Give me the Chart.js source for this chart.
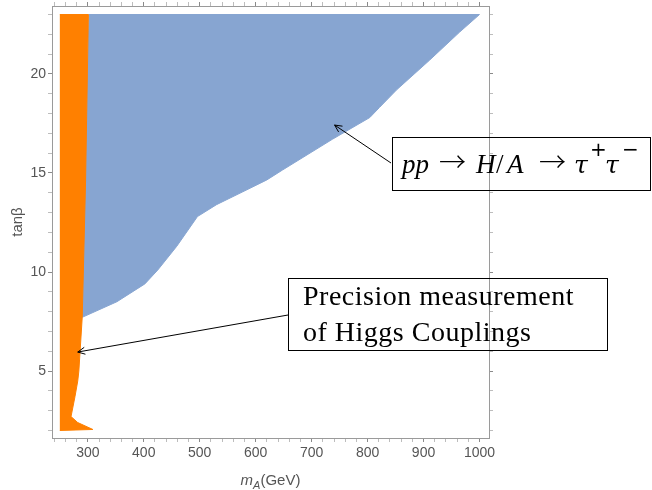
<!DOCTYPE html>
<html>
<head>
<meta charset="utf-8">
<script src="https://cdn.jsdelivr.net/npm/chart.js@4/dist/chart.umd.min.js"></script>
<style>
  body { margin: 0; background: #fff; }
  canvas { display: block; }
</style>
</head>
<body>
<canvas id="regionChart" width="652" height="490"></canvas>
<script>
// pp -> H/A -> tau tau region (blue), outline in order
const tauMass = [301, 1000, 964, 911, 852, 821, 804, 737, 648, 620, 577, 530, 496, 459, 425, 402, 352, 289];
const tauTanb = [23, 23, 22.1, 20.7, 19.2, 18.3, 17.8, 16.7, 15.15, 14.65, 14.05, 13.4, 12.8, 11.3, 10.1, 9.4, 8.5, 7.7];

// Higgs coupling precision region (orange), outline in order
const higgsMass = [250, 301, 296, 290, 284, 282, 277, 270, 282, 309, 250];
const higgsTanb = [23, 23, 14.6, 7.7, 5, 4.5, 3.7, 2.7, 2.4, 2.05, 2.0];

// tick labels
const xTickLabels = [300, 400, 500, 600, 700, 800, 900, 1000];
const yTickLabels = [5, 10, 15, 20];

// arrow targets (data coords)
const tauArrowTip = [741, 17.42];
const higgsArrowTip = [282, 5.96];

const X_MIN = 236, X_MAX = 1017, Y_MIN = 1.62, Y_MAX = 23.43;
const axisGrey = '#9a9a9a';
const labelGrey = '#555555';

function outline(xs, ys) {
    return xs.map((x, i) => ({ x: x, y: ys[i] }));
}

function tickColor(labels) {
    return ctx => labels.includes(ctx.tick && ctx.tick.value) ? '#8a8a8a' : '#bdbdbd';
}

function drawArrow(c, x0, y0, x1, y1) {
    const ang = Math.atan2(y1 - y0, x1 - x0);
    const len = 8, spread = 0.45;
    c.beginPath();
    c.moveTo(x0, y0);
    c.lineTo(x1, y1);
    c.moveTo(x1 - len * Math.cos(ang - spread), y1 - len * Math.sin(ang - spread));
    c.lineTo(x1, y1);
    c.lineTo(x1 - len * Math.cos(ang + spread), y1 - len * Math.sin(ang + spread));
    c.stroke();
}

// text whose ink starts at x
function glyph(c, text, font, x, y) {
    c.font = font;
    const m = c.measureText(text);
    c.fillText(text, x + (m.actualBoundingBoxLeft || 0), y);
}

// axis titles + annotation boxes
const annotations = {
    id: 'annotations',
    afterDraw(chart) {
        const c = chart.ctx;
        const area = chart.chartArea;
        const xs = chart.scales.x, ys = chart.scales.y;
        c.save();

        // y title
        c.fillStyle = labelGrey;
        c.font = '15px "Liberation Sans", sans-serif';
        c.textAlign = 'center';
        c.textBaseline = 'middle';
        c.save();
        c.translate(18, (area.top + area.bottom) / 2);
        c.rotate(-Math.PI / 2);
        c.fillText('tanβ', 0, 0);
        c.restore();

        // x title: m_A(GeV)
        c.textAlign = 'left';
        c.textBaseline = 'alphabetic';
        const parts = [
            ['m', 'italic 15px "Liberation Sans", sans-serif', 0],
            ['A', 'italic 11px "Liberation Sans", sans-serif', 4],
            ['(GeV)', '15px "Liberation Sans", sans-serif', 0]
        ];
        let w = 0;
        parts.forEach(p => { c.font = p[1]; w += c.measureText(p[0]).width; });
        let px = (area.left + area.right) / 2 - w / 2;
        parts.forEach(p => {
            c.font = p[1];
            c.fillText(p[0], px, 485 + p[2]);
            px += c.measureText(p[0]).width;
        });

        // annotation boxes
        c.strokeStyle = '#000';
        c.fillStyle = '#000';
        c.lineWidth = 1;

        // pp -> H/A -> tau+ tau-
        c.strokeRect(392.5, 137.5, 258, 53);
        const serif = '"Liberation Serif", serif';
        const it = 'italic 27px ' + serif, up = '27px ' + serif;
        const arrowFont = '300 27px "Noto Sans CJK JP", "DejaVu Sans", sans-serif';
        const tauFont = 'italic 25px "DejaVu Serif", serif';
        const sup = '20px "DejaVu Sans", sans-serif';
        glyph(c, 'pp', it, 400, 173);
        glyph(c, '→', arrowFont, 440, 172);
        glyph(c, 'H', it, 475, 173);
        glyph(c, '/', up, 496, 173);
        glyph(c, 'A', it, 505, 173);
        glyph(c, '→', arrowFont, 540, 172);
        glyph(c, 'τ', tauFont, 575, 173);
        glyph(c, '+', sup, 592, 156);
        glyph(c, 'τ', tauFont, 606, 173);
        glyph(c, '−', sup, 624, 156);
        drawArrow(c, 391, 163, xs.getPixelForValue(tauArrowTip[0]), ys.getPixelForValue(tauArrowTip[1]));

        c.strokeRect(288.5, 278.5, 319, 72);
        c.font = '28px ' + serif;
        if ('letterSpacing' in c) c.letterSpacing = '0.5px';
        c.fillText('Precision measurement', 303, 305);
        c.fillText('of Higgs Couplings', 303, 341);
        if ('letterSpacing' in c) c.letterSpacing = '0px';
        drawArrow(c, 288, 315, xs.getPixelForValue(higgsArrowTip[0]), ys.getPixelForValue(higgsArrowTip[1]));

        c.restore();
    }
};

const frameAxis = (position, step, labels, size) => ({
    type: 'linear',
    position: position,
    min: position === 'bottom' || position === 'top' ? X_MIN : Y_MIN,
    max: position === 'bottom' || position === 'top' ? X_MAX : Y_MAX,
    ticks: {
        stepSize: step,
        includeBounds: false,
        autoSkip: false,
        maxRotation: 0,
        display: position === 'bottom' || position === 'left',
        padding: position === 'bottom' ? 3 : 2,
        color: labelGrey,
        font: { family: '"Liberation Sans", sans-serif', size: 14 },
        callback: v => labels.includes(v) ? String(v) : ''
    },
    grid: {
        drawOnChartArea: false,
        tickLength: 4,
        tickColor: tickColor(labels)
    },
    border: { color: axisGrey, width: 1 },
    afterFit: axis => {
        if (axis.isHorizontal()) axis.height = size; else axis.width = size;
        axis.paddingTop = 0;
        axis.paddingBottom = 0;
        axis.paddingLeft = 0;
        axis.paddingRight = 0;
    }
});

const ctx = document.getElementById('regionChart').getContext('2d');
new Chart(ctx, {
    type: 'scatter',
    data: {
        datasets: [
            {
                label: 'Precision measurement of Higgs Couplings',
                data: outline(higgsMass, higgsTanb),
                showLine: true,
                fill: 'shape',
                tension: 0,
                pointRadius: 0,
                borderWidth: 1,
                borderColor: 'rgb(255,128,0)',
                backgroundColor: 'rgb(255,128,0)'
            },
            {
                label: 'pp → H/A → ττ',
                data: outline(tauMass, tauTanb),
                showLine: true,
                fill: 'shape',
                tension: 0,
                pointRadius: 0,
                borderWidth: 1,
                borderColor: 'rgb(135,165,209)',
                backgroundColor: 'rgb(135,165,209)'
            }
        ]
    },
    options: {
        responsive: false,
        animation: false,
        layout: { padding: { left: 0, right: 158, top: 0, bottom: 0 } },
        plugins: {
            legend: { display: false },
            tooltip: { enabled: false }
        },
        scales: {
            x: frameAxis('bottom', 20, xTickLabels, 52),
            x2: frameAxis('top', 20, xTickLabels, 6),
            y: frameAxis('left', 1, yTickLabels, 52),
            y2: frameAxis('right', 1, yTickLabels, 5)
        }
    },
    plugins: [annotations]
});
</script>
</body>
</html>
